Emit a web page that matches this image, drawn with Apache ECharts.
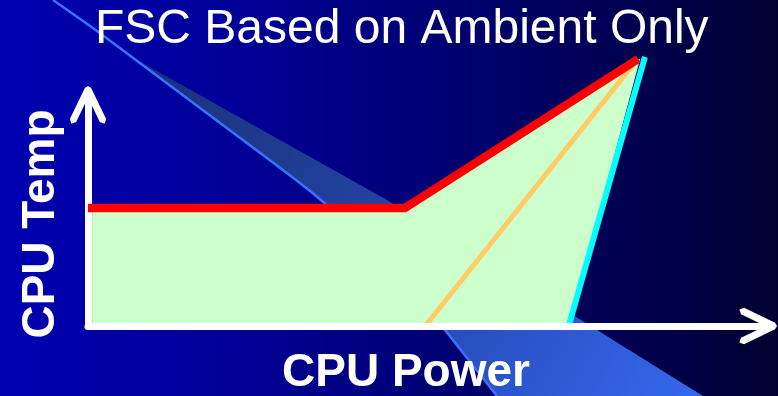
<!DOCTYPE html>
<html>
<head>
<meta charset="utf-8">
<script src="https://cdn.jsdelivr.net/npm/echarts@6/dist/echarts.min.js"></script>
<style>
  html, body { margin: 0; padding: 0; background: #000070; }
  #chart { width: 778px; height: 396px; }
</style>
</head>
<body>
<div id="chart"></div>
<script>
const titleText = 'FSC Based on Ambient Only';
const xAxisName = 'CPU Power';
const yAxisName = 'CPU Temp';

// Fan speed control limit: flat temperature, then rising with power (relative units)
const redPower = [0, 46.6, 80.9];
const redTemp = [51.1, 51.1, 115.6];
// Steep bound on the high-power side
const cyanPower = [70.7, 81.9];
const cyanTemp = [0, 116.5];
// Intermediate line
const orangePower = [49.6, 80.7];
const orangeTemp = [0, 115.2];
// Operating region enclosed by the curves
const areaPower = [0.6, 0.6, 46.6, 81.2, 70.7];
const areaTemp = [0, 51.1, 51.1, 115.8, 0];

const FONT = '"Liberation Sans", Arial, Helvetica, sans-serif';

// Open chevron used as the arrow head on both axes (drawn pointing up)
const chevron = 'path://M18.15,0 L21.3,1.97 L36.3,32.97 L34.68,37.65 L30,36.03 L18.15,11.54 L6.3,36.03 L1.62,37.65 L0,32.97 L15,1.97 Z';

const pairs = (xs, ys) => xs.map((x, i) => [x, ys[i]]);

const chart = echarts.init(document.getElementById('chart'), null, { renderer: 'canvas' });

chart.setOption({
  animation: false,
  title: {
    text: titleText,
    left: 95,
    top: 6,
    padding: 0,
    textStyle: { color: '#ffffff', fontSize: 48, fontWeight: 'normal', fontFamily: FONT }
  },
  graphic: [
    {
      type: 'rect', z: -10, silent: true,
      shape: { x: 0, y: 0, width: 778, height: 396 },
      style: {
        fill: new echarts.graphic.LinearGradient(0, 0, 1, 0, [
          { offset: 0, color: '#0000b0' },
          { offset: 0.3, color: '#000098' },
          { offset: 0.6, color: '#00006e' },
          { offset: 0.85, color: '#00004a' },
          { offset: 1, color: '#000030' }
        ])
      }
    },
    {
      // translucent swoosh band of the slide template
      type: 'polygon', z: -9, silent: true,
      shape: {
        points: [[130, 56], [200, 108], [310, 191], [390, 262], [445, 330], [497, 396],
                 [703, 396], [597, 330], [387, 200], [130, 56]]
      },
      style: {
        fill: {
          type: 'linear', x: 130, y: 56, x2: 703, y2: 396, global: true,
          colorStops: [
            { offset: 0, color: '#1a2f78' },
            { offset: 0.5, color: '#2446a6' },
            { offset: 0.75, color: '#2c56cf' },
            { offset: 1, color: '#3568ec' }
          ]
        }
      }
    },
    {
      type: 'polyline', z: -8, silent: true,
      shape: {
        points: [[53, 0], [97, 31], [200, 108], [310, 191], [390, 262], [445, 330], [497, 396]],
        smooth: 0.2
      },
      style: { stroke: '#3b72ff', lineWidth: 2.5, fill: null }
    }
  ],
  grid: { left: 88, right: 10, top: 95, bottom: 70, containLabel: false, outerBoundsMode: 'none' },
  xAxis: {
    type: 'value', min: 0, max: 100, z: 10,
    name: xAxisName, nameLocation: 'middle', nameGap: 24,
    nameTextStyle: { color: '#ffffff', fontSize: 46, fontWeight: 'bold', fontFamily: FONT, padding: [0, 44, 0, 0] },
    axisLine: {
      show: true, onZero: false,
      lineStyle: { color: '#ffffff', width: 7 },
      symbol: ['none', chevron], symbolSize: [36.3, 37.65], symbolOffset: [0, -9.8]
    },
    axisTick: { show: false }, axisLabel: { show: false }, splitLine: { show: false }
  },
  yAxis: {
    type: 'value', min: 0, max: 100, z: 1,
    name: yAxisName, nameLocation: 'middle', nameGap: 24,
    nameTextStyle: { color: '#ffffff', fontSize: 46, fontWeight: 'bold', fontFamily: FONT, padding: [0, 27, 0, 0] },
    axisLine: {
      show: true, onZero: false,
      lineStyle: { color: '#ffffff', width: 7 },
      symbol: ['none', chevron], symbolSize: [36.3, 37.65], symbolOffset: [0, -9.8]
    },
    axisTick: { show: false }, axisLabel: { show: false }, splitLine: { show: false }
  },
  series: [
    {
      type: 'custom', z: 2, clip: false, silent: true,
      data: pairs(areaPower, areaTemp),
      encode: { x: 0, y: 1 },
      renderItem: function (params, api) {
        if (params.dataIndex !== 0) return null;
        const pts = areaPower.map((x, i) => api.coord([x, areaTemp[i]]));
        return { type: 'polygon', shape: { points: pts }, style: { fill: '#ccffcc' } };
      }
    },
    {
      type: 'line', z: 3, clip: false, symbol: 'none', silent: true,
      data: pairs(orangePower, orangeTemp),
      lineStyle: { color: '#ffcc66', width: 5, cap: 'butt' }
    },
    {
      type: 'line', z: 4, clip: false, symbol: 'none', silent: true,
      data: pairs(cyanPower, cyanTemp),
      lineStyle: { color: '#00ffff', width: 6, cap: 'butt' }
    },
    {
      type: 'line', z: 5, clip: false, symbol: 'none', silent: true,
      data: pairs(redPower, redTemp),
      lineStyle: { color: '#ff0000', width: 8.5, cap: 'butt', join: 'miter' }
    }
  ]
});
</script>
</body>
</html>
